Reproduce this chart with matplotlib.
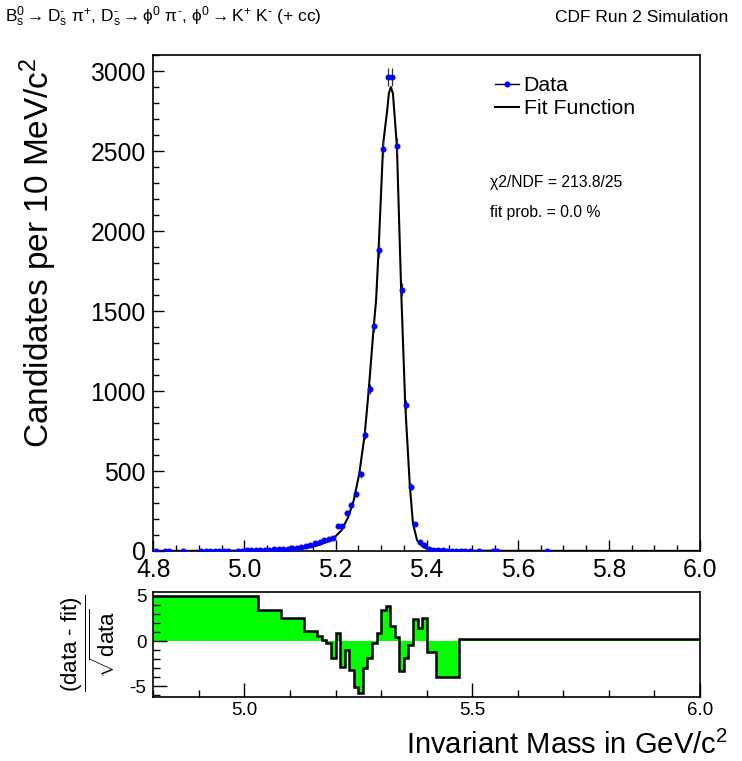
import numpy as np
import matplotlib
matplotlib.use("Agg")
import matplotlib.pyplot as plt
from matplotlib.lines import Line2D
from matplotlib.ticker import MultipleLocator

plt.rcParams['font.family'] = ['Liberation Sans', 'DejaVu Sans']
plt.rcParams['mathtext.fontset'] = 'custom'
plt.rcParams['mathtext.rm'] = 'Liberation Sans'
plt.rcParams['mathtext.it'] = 'Liberation Sans:italic'
plt.rcParams['mathtext.sf'] = 'Liberation Sans'

# data points (bin centres in GeV/c^2, candidates per 10 MeV)
mass = [4.805, 4.825, 4.835, 4.865, 4.905, 4.915, 4.925, 4.935, 4.945, 4.955,
        4.965, 4.985, 4.995, 5.005, 5.015, 5.025, 5.035, 5.045, 5.055, 5.065,
        5.075, 5.085, 5.095, 5.105, 5.115, 5.125, 5.135, 5.145, 5.155, 5.165,
        5.175, 5.185, 5.195, 5.205, 5.215, 5.225, 5.235, 5.245, 5.255, 5.265,
        5.275, 5.285, 5.295, 5.305, 5.315, 5.325, 5.335, 5.345, 5.355, 5.365,
        5.375, 5.385, 5.395, 5.405, 5.415, 5.425, 5.435, 5.445, 5.455, 5.465,
        5.475, 5.485, 5.495, 5.515, 5.545, 5.555, 5.665]
counts = [1, 1, 1, 1, 1, 1, 1, 1, 2, 1,
          2, 2, 3, 4, 5, 5, 6, 7, 9, 10,
          11, 12, 14, 17, 21, 25, 31, 40, 48, 58,
          66, 75, 84, 154, 154, 238, 288, 359, 481, 727,
          1011, 1409, 1881, 2515, 2963, 2963, 2531, 1634, 913, 402,
          171, 56, 40, 12, 8, 5, 4, 3, 3, 2,
          2, 2, 2, 1, 1, 1, 1]

# fit function
fit_mass = [4.80, 4.90, 5.00, 5.05, 5.10, 5.13, 5.16, 5.18, 5.195, 5.213,
            5.228, 5.240, 5.252, 5.264, 5.273, 5.284, 5.289, 5.2945, 5.3046, 5.3134,
            5.317, 5.3215, 5.326, 5.3288, 5.3347, 5.344, 5.353, 5.3632, 5.370, 5.379,
            5.390, 5.400, 5.45, 5.50, 5.60, 6.00]
fit_vals = [0.5, 1, 2, 4, 9, 16, 35, 55, 77, 129,
            213, 317, 481, 727, 1011, 1409, 1567, 1879, 2546, 2754,
            2859, 2900, 2859, 2754, 2531, 1634, 913, 402, 171, 67,
            30, 15, 4, 2, 1, 0.5]

# residuals (data - fit)/sqrt(data), variable bins
res_edges = [4.80, 5.03, 5.08, 5.11, 5.13, 5.16, 5.17, 5.18, 5.19, 5.20,
             5.21, 5.22, 5.23, 5.24, 5.25, 5.26, 5.27, 5.28, 5.29, 5.30,
             5.31, 5.32, 5.33, 5.34, 5.35, 5.36, 5.37, 5.38, 5.39, 5.40,
             5.42, 5.47, 6.00]
res_vals = [5.0, 3.42, 2.5, 2.57, 1.1, 0.55, 0.1, -0.26, -1.84,
            0.92, -2.9, -1.0, -3.2, -5.1, -5.7, -3.0, -1.84, -0.18, 0.85,
            3.42, 3.86, 1.65, 0.48, -3.27, -1.9, -0.44, 2.39, 1.4, 2.5,
            -1.18, -3.93, 0.18]

fig = plt.figure(figsize=(7.42, 7.61), dpi=100)
W, H = 742.0, 761.0
ax = fig.add_axes([153.3 / W, 1 - 551 / H, (700 - 153.3) / W, (551 - 55) / H])
axr = fig.add_axes([153.3 / W, 1 - 697 / H, (700 - 153.3) / W, (697 - 592) / H])

ax.plot(fit_mass, fit_vals, color='black', lw=1.5, zorder=3)
ax.errorbar(mass, counts, yerr=np.sqrt(counts), fmt='o', color='blue', ms=3.3,
            ecolor='#333333', elinewidth=0.9, capsize=0, zorder=4)

ax.set_xlim(4.8, 6.0)
ax.set_ylim(0, 3100)
ax.xaxis.set_major_locator(MultipleLocator(0.2))
ax.xaxis.set_minor_locator(MultipleLocator(0.05))
ax.yaxis.set_major_locator(MultipleLocator(500))
ax.yaxis.set_minor_locator(MultipleLocator(100))
ax.tick_params(which='both', direction='in', top=False, right=False, labelsize=17.8)
ax.tick_params(which='major', length=8, width=1)
ax.tick_params(which='minor', length=4.5, width=1)
ax.tick_params(axis='y', pad=5.5)
ax.tick_params(axis='x', pad=5)
ax.xaxis.set_major_formatter(matplotlib.ticker.FormatStrFormatter('%.1f'))
for s in ax.spines.values():
    s.set_linewidth(1.2)

handles = [Line2D([0], [0], color='black', lw=1, marker='o', ms=3.3,
                  markerfacecolor='blue', markeredgecolor='blue'),
           Line2D([0], [0], color='black', lw=1.5)]
ax.legend(handles, ['Data', 'Fit Function'], loc='upper left',
          bbox_to_anchor=(495 / W, 1 - 76 / H), bbox_transform=fig.transFigure,
          frameon=False, fontsize=15.3, handlelength=1.15, handletextpad=0.2,
          labelspacing=0.2, borderpad=0, borderaxespad=0)

fig.text(490 / W, 1 - 183 / H, 'χ2/NDF = 213.8/25', fontsize=11.3, va='center')
fig.text(490 / W, 1 - 213 / H, 'fit prob. = 0.0 %', fontsize=11.3, va='center')

# residual panel
axr.stairs(res_vals, res_edges, baseline=0, fill=True, color='#00ff00', lw=0)
axr.stairs(res_vals, res_edges, baseline=None, color='black', lw=1.8)
axr.set_xlim(4.8, 6.0)
axr.set_ylim(-6.17, 5.42)
axr.xaxis.set_major_locator(MultipleLocator(0.5))
axr.xaxis.set_minor_locator(MultipleLocator(0.1))
axr.yaxis.set_major_locator(MultipleLocator(5))
axr.yaxis.set_minor_locator(MultipleLocator(1))
axr.tick_params(which='both', direction='in', top=False, right=False, labelsize=13.5)
axr.tick_params(which='major', length=10, width=1)
axr.tick_params(which='minor', length=5, width=1)
axr.tick_params(axis='y', pad=5, labelsize=13.5)
axr.xaxis.set_major_formatter(matplotlib.ticker.FormatStrFormatter('%.1f'))
axr.yaxis.set_major_formatter(matplotlib.ticker.FormatStrFormatter('%d'))
for s in axr.spines.values():
    s.set_linewidth(1.2)

# labels and titles
fig.text(38 / W, 1 - 57 / H, 'Candidates per 10 MeV/c$^{2}$', rotation=90,
         ha='center', va='top', fontsize=24)
fig.text(728 / W, 1 - 745 / H, 'Invariant Mass in GeV/c$^{2}$', ha='right',
         va='center', fontsize=21)
fig.text(88 / W, 1 - 643 / H,
         r'$\dfrac{\mathrm{(data\ \text{-}\ fit)}}{\sqrt{\mathrm{data}}}$',
         rotation=90, ha='center', va='center', fontsize=16)
fig.text(5 / W, 1 - 17 / H,
         r'$\mathrm{B}^{0}_{\mathrm{s}} \rightarrow \mathrm{D}^{\text{-}}_{\mathrm{s}}\ \mathrm{π}^{+}$, '
         r'$\mathrm{D}^{\text{-}}_{\mathrm{s}} \rightarrow \mathrm{ϕ}^{0}\ \mathrm{π}^{\text{-}}$, '
         r'$\mathrm{ϕ}^{0} \rightarrow \mathrm{K}^{+}\ \mathrm{K}^{\text{-}}$ (+ cc)',
         ha='left', va='center', fontsize=12.5)
fig.text(728 / W, 1 - 17 / H, 'CDF Run 2 Simulation', ha='right', va='center',
         fontsize=12.5)

fig.savefig('out.png', dpi=100)
